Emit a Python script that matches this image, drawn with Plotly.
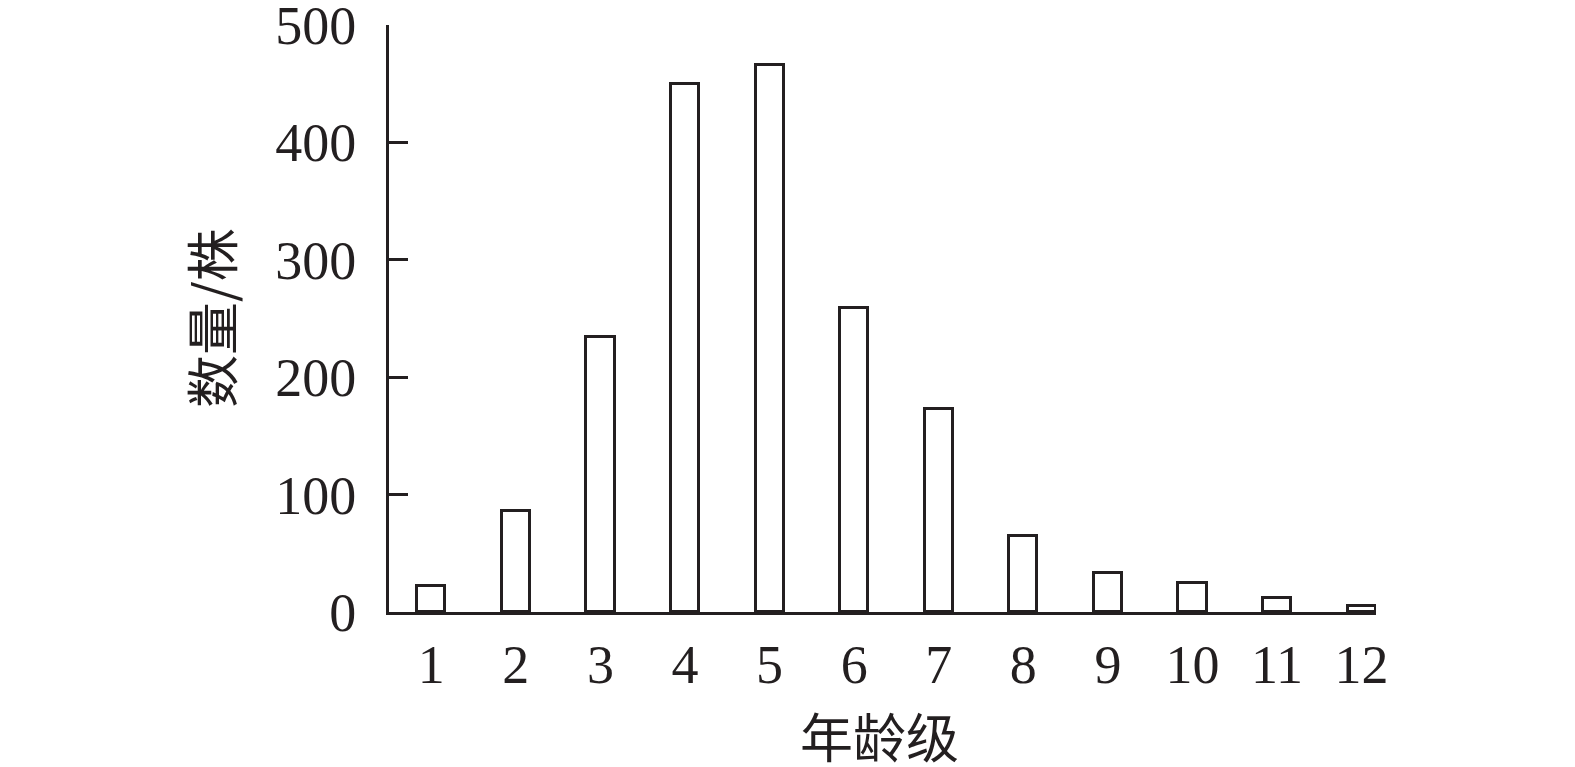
import plotly.graph_objects as go

categories = [1, 2, 3, 4, 5, 6, 7, 8, 9, 10, 11, 12]
tick_labels = ["1", "2", "3", "4", "5", "6", "7", "8", "9", "10", "11", "12"]
counts = [22, 86, 234, 450, 466, 259, 173, 65, 33, 25, 12, 5]
y_ticks = [0, 100, 200, 300, 400, 500]

INK = "#231f20"
SERIF = "Liberation Serif, Times New Roman, serif"
CJK = "Noto Sans CJK SC, sans-serif"

fig = go.Figure()
fig.add_trace(go.Bar(
    x=categories, y=counts, width=0.333,
    marker=dict(color="white", line=dict(color=INK, width=3)),
    showlegend=False, cliponaxis=False,
))

fig.update_layout(
    width=1575, height=767,
    margin=dict(l=389, r=199, t=25, b=155),
    paper_bgcolor="white", plot_bgcolor="white",
    bargap=0,
    xaxis=dict(
        range=[0.5, 12.17], tickvals=categories, ticktext=tick_labels,
        showline=True, linecolor=INK, linewidth=3, ticks="",
        showgrid=False, zeroline=False, automargin=False,
        tickfont=dict(family=SERIF, size=54, color=INK),
        ticklabelstandoff=3,
    ),
    yaxis=dict(
        range=[0, 500], tickvals=y_ticks, ticktext=[str(v) for v in y_ticks],
        showline=True, linecolor=INK, linewidth=3,
        ticks="inside", ticklen=19, tickwidth=3, tickcolor=INK,
        showgrid=False, zeroline=False, automargin=False,
        ticklabeloverflow="allow",
        tickfont=dict(family=SERIF, size=54, color=INK),
        ticklabelstandoff=19,
    ),
    annotations=[
        dict(text="年龄级", xref="paper", yref="paper", x=(879 - 389) / 987, y=-123 / 587,
             xanchor="center", yanchor="middle", showarrow=False,
             font=dict(family=CJK, size=53, color=INK)),
        dict(text="数量/株", xref="paper", yref="paper", x=-179 / 987, y=(612 - 318) / 587,
             xanchor="center", yanchor="middle", showarrow=False, textangle=-90,
             font=dict(family=CJK, size=53, color=INK)),
    ],
)

fig.write_html("out.html", config={"displayModeBar": False},
               post_script="document.body.style.margin='0';")
